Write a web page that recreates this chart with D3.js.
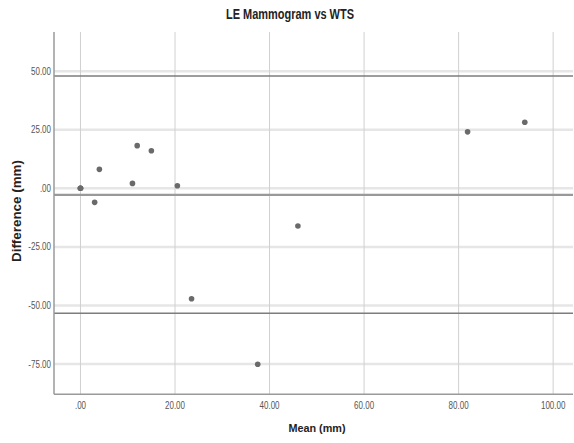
<!DOCTYPE html>
<html>
<head>
<meta charset="utf-8">
<script src="https://cdn.jsdelivr.net/npm/d3@7"></script>
<style>
  html, body { margin: 0; padding: 0; background: #fff; }
  svg { display: block; }
  .tick-label { font-family: "Liberation Sans", Arial, sans-serif; font-size: 10px; fill: #555; }
  .title { font-family: "Liberation Sans", Arial, sans-serif; font-weight: bold; font-size: 14px; fill: #222; }
  .axis-title { font-family: "Liberation Sans", Arial, sans-serif; font-weight: bold; fill: #222; }
</style>
</head>
<body>
<script>
// Bland-Altman data: mean of the two measurements vs their difference (mm)
const meanValues = [0, 0, 0, 3.0, 4.0, 11.0, 12.0, 15.0, 20.5, 23.5, 37.5, 46.0, 81.9, 94.0];
const diffValues = [0, 0, 0, -6.0, 8.1, 2.1, 18.2, 16.0, 1.1, -47.1, -75.1, -16.1, 24.1, 28.2];

// Mean difference and 95% limits of agreement
const meanDiff = -2.8;
const upperLimit = 47.9;
const lowerLimit = -53.3;

const xTicks = [0, 20, 40, 60, 80, 100];
const yTicks = [50, 25, 0, -25, -50, -75];
// ".00" style labels with a plain hyphen for negatives
const fmt = v => v === 0 ? ".00" : (v < 0 ? "-" : "") + Math.abs(v).toFixed(2);

const W = 574, H = 443;
const plotLeft = 54, plotRight = 573, plotTop = 32, plotBottom = 394.3;
const narrow = 0.8; // horizontal squeeze for the condensed label face

const svg = d3.select("body").append("svg").attr("width", W).attr("height", H);

const x = d3.scaleLinear().domain([-5.6, 104.2]).range([plotLeft, plotRight]);
const y = d3.scaleLinear().domain([-87.9, 66.7]).range([plotBottom, plotTop]);

// Horizontal gridlines
svg.append("g").selectAll("line").data(yTicks).join("line")
  .attr("x1", plotLeft).attr("x2", plotRight)
  .attr("y1", d => y(d)).attr("y2", d => y(d))
  .attr("stroke", "#e6e6e6").attr("stroke-width", 2.5);

// Vertical gridlines
svg.append("g").selectAll("line").data(xTicks).join("line")
  .attr("x1", d => x(d)).attr("x2", d => x(d))
  .attr("y1", plotTop).attr("y2", plotBottom)
  .attr("stroke", "#d0d0d0").attr("stroke-width", 1);

// Reference lines
svg.append("g").selectAll("line").data([upperLimit, meanDiff, lowerLimit]).join("line")
  .attr("x1", plotLeft).attr("x2", plotRight)
  .attr("y1", d => y(d)).attr("y2", d => y(d))
  .attr("stroke", d => d === meanDiff ? "#999" : "#7d7d7d")
  .attr("stroke-width", d => d === meanDiff ? 2.2 : 1.6);

// Axis lines
svg.append("line").attr("x1", plotLeft).attr("x2", plotLeft).attr("y1", plotTop).attr("y2", plotBottom)
  .attr("stroke", "#9a9a9a").attr("stroke-width", 1.5);
svg.append("line").attr("x1", plotLeft).attr("x2", plotRight).attr("y1", plotBottom).attr("y2", plotBottom)
  .attr("stroke", "#9a9a9a").attr("stroke-width", 1.5);

// Tick labels (condensed)
svg.append("g").selectAll("text").data(yTicks).join("text")
  .attr("class", "tick-label")
  .attr("transform", d => `translate(${plotLeft - 3},${y(d) + 3.5}) scale(${narrow},1)`)
  .attr("text-anchor", "end")
  .text(fmt);

svg.append("g").selectAll("text").data(xTicks).join("text")
  .attr("class", "tick-label")
  .attr("transform", d => `translate(${x(d)},${plotBottom + 15}) scale(${narrow},1)`)
  .attr("text-anchor", "middle")
  .text(fmt);

// Points
svg.append("g").selectAll("circle").data(meanValues.map((m, i) => [m, diffValues[i]])).join("circle")
  .attr("cx", d => x(d[0])).attr("cy", d => y(d[1]))
  .attr("r", 2.8)
  .attr("fill", "#6a6a6a");

// Titles
svg.append("text").attr("class", "title")
  .attr("x", 290).attr("y", 18.5).attr("text-anchor", "middle")
  .attr("textLength", 128).attr("lengthAdjust", "spacingAndGlyphs")
  .text("LE Mammogram vs WTS");

svg.append("text").attr("class", "axis-title")
  .attr("x", 317).attr("y", 432).attr("text-anchor", "middle")
  .attr("font-size", 11.5)
  .attr("textLength", 57).attr("lengthAdjust", "spacingAndGlyphs")
  .text("Mean (mm)");

svg.append("text").attr("class", "axis-title")
  .attr("transform", `translate(20.5, 211) rotate(-90)`)
  .attr("text-anchor", "middle")
  .attr("font-size", 13)
  .attr("textLength", 102).attr("lengthAdjust", "spacingAndGlyphs")
  .text("Difference (mm)");
</script>
</body>
</html>
